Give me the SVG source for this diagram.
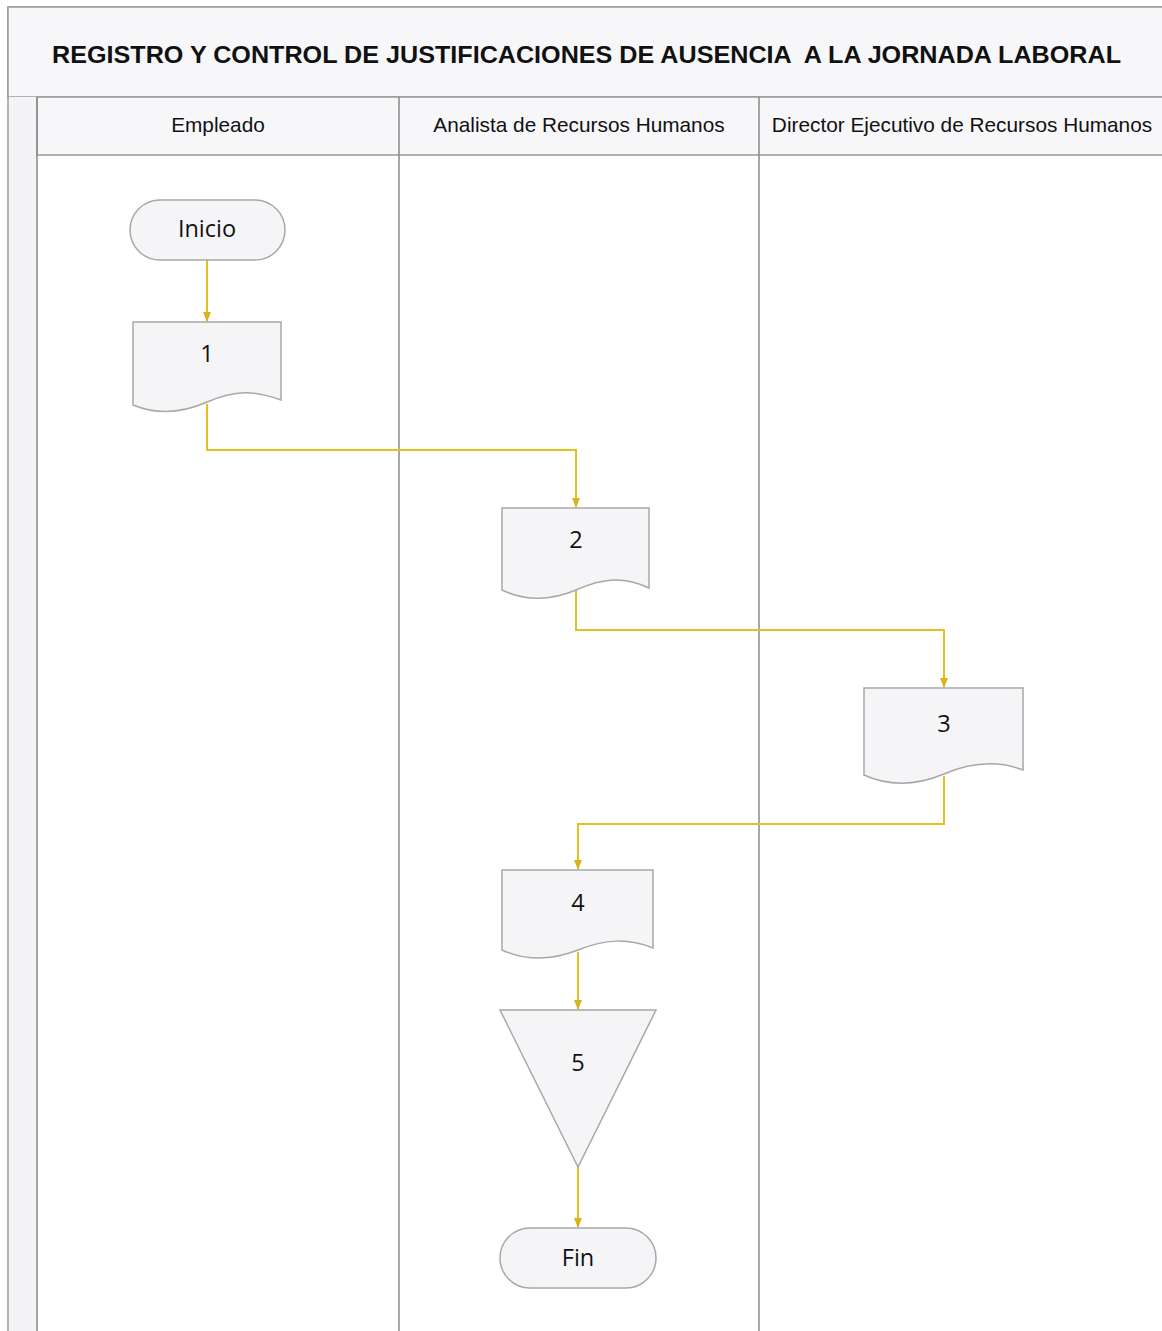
<svg xmlns="http://www.w3.org/2000/svg" width="1162" height="1331" viewBox="0 0 1162 1331">
<defs>
<marker id="arrow" viewBox="0 0 10 10" refX="9" refY="5" markerWidth="10" markerHeight="10" orient="auto" markerUnits="userSpaceOnUse"><path d="M0,1 L10,5 L0,9 z" fill="#d9b21c"/></marker>
</defs>
<style>
.frame{fill:#ffffff;stroke:#9a9a9a;stroke-width:1.5}
.band{fill:#f7f7f9;stroke:#9a9a9a;stroke-width:1.5}
.lane{fill:none;stroke:#8a8a8a;stroke-width:1.5}
.title{font-family:"Liberation Sans",Arial,sans-serif;font-weight:bold;font-size:24.5px;fill:#111}
.hdr{font-family:"Liberation Sans",Arial,sans-serif;font-size:20.8px;fill:#111}
.shape{fill:#f5f5f8;stroke:#a8a8a8;stroke-width:1.5}
.lbl{font-family:"Open Sans","Noto Sans",sans-serif;font-size:23.5px;fill:#111;text-anchor:middle}
.conn{fill:none;stroke:#e2c21e;stroke-width:2}
</style>
<rect x="0" y="0" width="1162" height="1331" fill="#ffffff"/>
<g id="frame">
<rect class="frame" x="8" y="7" width="1160" height="1330"/>
<rect class="band" x="8" y="7" width="1160" height="90"/>
<text class="title" x="52" y="63" xml:space="preserve" textLength="1069" lengthAdjust="spacingAndGlyphs">REGISTRO Y CONTROL DE JUSTIFICACIONES DE AUSENCIA  A LA JORNADA LABORAL</text>
<rect x="9" y="97" width="28" height="1240" fill="#f4f4f6"/>
<rect class="band" x="37" y="97" width="1130" height="58"/>
<line class="lane" x1="37" y1="97" x2="37" y2="1331"/>
<line class="lane" x1="399" y1="97" x2="399" y2="1331"/>
<line class="lane" x1="759" y1="97" x2="759" y2="1331"/>
<text class="hdr" x="218" y="132" text-anchor="middle">Empleado</text>
<text class="hdr" x="579" y="132" text-anchor="middle">Analista de Recursos Humanos</text>
<text class="hdr" x="962" y="132" text-anchor="middle">Director Ejecutivo de Recursos Humanos</text>
</g>
<g id="connectors">
<path class="conn" d="M207,260 L207,321" marker-end="url(#arrow)"/>
<path class="conn" d="M207,404 L207,450 L576,450 L576,507" marker-end="url(#arrow)"/>
<path class="conn" d="M576,590 L576,630 L944,630 L944,687" marker-end="url(#arrow)"/>
<path class="conn" d="M944,776 L944,824 L578,824 L578,869" marker-end="url(#arrow)"/>
<path class="conn" d="M578,952 L578,1009" marker-end="url(#arrow)"/>
<path class="conn" d="M578,1167 L578,1227" marker-end="url(#arrow)"/>
</g>
<g id="inicio">
<rect class="shape" x="130" y="200" width="155" height="60" rx="30" ry="30"/>
<text class="lbl" x="207" y="237">Inicio</text>
</g>
<g id="n1">
<path class="shape" d="M133,322 L281,322 L281,400 C255,390 235,390 207,402 C180,414 155,414 133,405 Z"/>
<text class="lbl" x="207" y="362">1</text>
</g>
<g id="n2">
<path class="shape" d="M502,508 L649,508 L649,588 C624,576 603,578 576,590 C550,601 525,601 502,590 Z"/>
<text class="lbl" x="576" y="548">2</text>
</g>
<g id="n3">
<path class="shape" d="M864,688 L1023,688 L1023,770 C997,760 972,762 944,774 C915,786 888,786 864,775 Z"/>
<text class="lbl" x="944" y="732">3</text>
</g>
<g id="n4">
<path class="shape" d="M502,870 L653,870 L653,948 C628,938 605,939 578,950 C550,961 526,961 502,950 Z"/>
<text class="lbl" x="578" y="911">4</text>
</g>
<g id="n5">
<path class="shape" d="M500,1010 L656,1010 L578,1167 Z"/>
<text class="lbl" x="578" y="1071">5</text>
</g>
<g id="fin">
<rect class="shape" x="500" y="1228" width="156" height="60" rx="30" ry="30"/>
<text class="lbl" x="578" y="1266">Fin</text>
</g>
</svg>
